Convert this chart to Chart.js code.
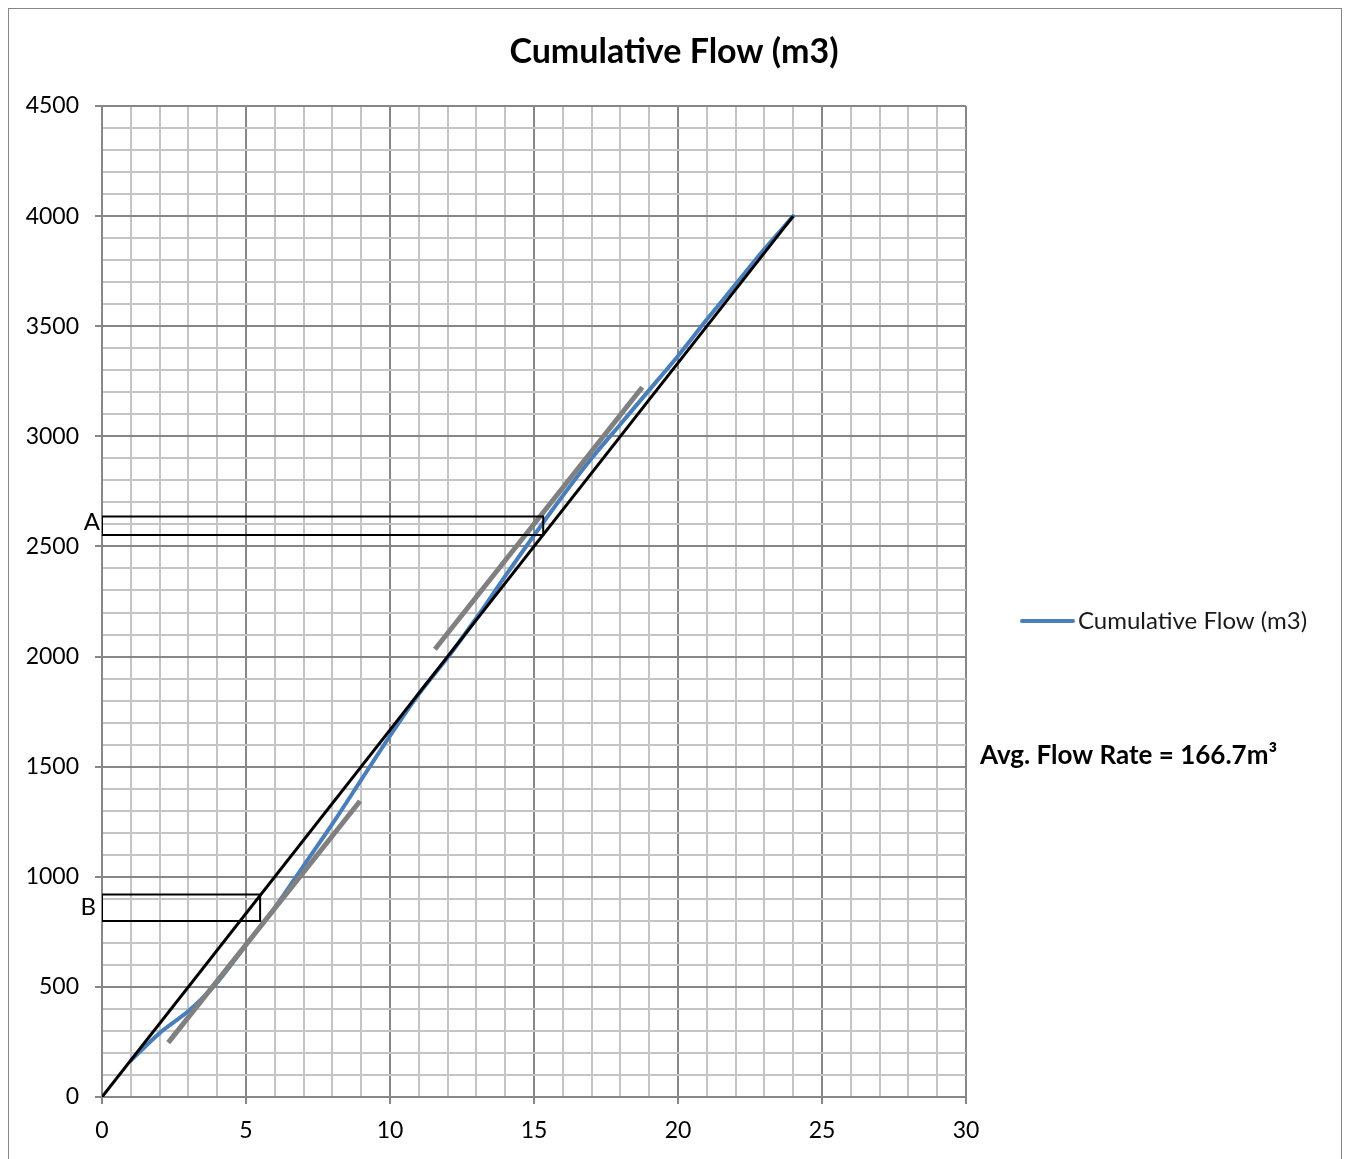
<!DOCTYPE html>
<html>
<head>
<meta charset="utf-8">
<script src="https://cdn.jsdelivr.net/npm/chart.js@4"></script>
<style>
  html, body { margin: 0; padding: 0; background: #fff; }
</style>
</head>
<body>
<canvas id="flowChart" width="1347" height="1159"></canvas>
<script>
// hourly readings
const hours = [1, 2, 3, 4, 5, 6, 7, 8, 9, 10, 11, 12, 13, 14, 15, 16, 17, 18, 19, 20, 21, 22, 23, 24];
const cumulativeFlow = [165, 290, 390, 520, 690, 860, 1050, 1240, 1440, 1640, 1830, 1995, 2175, 2365, 2550, 2730, 2900, 3055, 3210, 3365, 3530, 3690, 3850, 4000];

// average flow line (origin to last reading)
const avgX = [0, 24];
const avgY = [0, 4000];

// hand-drawn tangents
const tangentLowX = [2.3, 8.96];
const tangentLowY = [247, 1344];
const tangentHighX = [11.56, 18.76];
const tangentHighY = [2033, 3223];

// reading boxes A and B
const boxAX = [0, 15.32, 15.32, 0, 0];
const boxAY = [2552, 2552, 2636, 2636, 2552];
const boxBX = [0, 5.49, 5.49, 0, 0];
const boxBY = [799, 799, 920, 920, 799];

const xMax = 30;
const yMax = 4500;

const FONT = "Lato, 'Open Sans', sans-serif";
const BLUE = "#4A7EBB";

const pts = (xs, ys) => xs.map((x, i) => ({ x: x, y: ys[i] }));

const decor = {
  id: "decor",
  afterDraw(chart) {
    const ctx = chart.ctx;
    const xs = chart.scales.x;
    const ys = chart.scales.y;
    ctx.save();

    // chart border
    ctx.strokeStyle = "#868686";
    ctx.lineWidth = 1;
    ctx.strokeRect(8.5, 8.5, 1333, 1200);

    // title
    ctx.fillStyle = "#000";
    ctx.font = "bold 34px " + FONT;
    ctx.textAlign = "center";
    ctx.textBaseline = "middle";
    ctx.fillText("Cumulative Flow (m3)", 674, 52);

    // legend
    ctx.strokeStyle = BLUE;
    ctx.lineWidth = 4;
    ctx.lineCap = "round";
    ctx.beginPath();
    ctx.moveTo(1022, 621);
    ctx.lineTo(1073, 621);
    ctx.stroke();
    ctx.font = "24px " + FONT;
    ctx.textAlign = "left";
    ctx.fillStyle = "#1a1a1a";
    ctx.fillText("Cumulative Flow (m3)", 1078, 621);

    // note
    ctx.font = "bold 26px " + FONT;
    ctx.fillStyle = "#000";
    ctx.fillText("Avg. Flow Rate = 166.7m\u00B3", 980, 756);

    // box labels
    ctx.font = "24px " + FONT;
    ctx.textAlign = "right";
    ctx.fillText("A", xs.getPixelForValue(0) - 2, ys.getPixelForValue(2610));
    ctx.fillText("B", xs.getPixelForValue(0) - 6, ys.getPixelForValue(860));

    ctx.restore();
  },
};

const gridColor = (c) => (c.tick && c.tick.value % 5 === 0 ? "#878787" : "#C4C4C4");
const gridColorY = (c) => (c.tick && c.tick.value % 500 === 0 ? "#878787" : "#C4C4C4");

new Chart(document.getElementById("flowChart").getContext("2d"), {
  type: "scatter",
  data: {
    datasets: [
      {
        label: "A",
        data: pts(boxAX, boxAY),
        showLine: true,
        borderColor: "#000",
        borderWidth: 2,
        pointRadius: 0,
        tension: 0,
        order: 0,
      },
      {
        label: "B",
        data: pts(boxBX, boxBY),
        showLine: true,
        borderColor: "#000",
        borderWidth: 2,
        pointRadius: 0,
        tension: 0,
        order: 0,
      },
      {
        label: "Average",
        data: pts(avgX, avgY),
        showLine: true,
        borderColor: "#000",
        borderWidth: 3,
        pointRadius: 0,
        order: 1,
      },
      {
        label: "Tangent 1",
        data: pts(tangentLowX, tangentLowY),
        showLine: true,
        borderColor: "#808080",
        borderWidth: 5,
        pointRadius: 0,
        order: 2,
      },
      {
        label: "Tangent 2",
        data: pts(tangentHighX, tangentHighY),
        showLine: true,
        borderColor: "#808080",
        borderWidth: 5,
        pointRadius: 0,
        order: 2,
      },
      {
        label: "Cumulative Flow (m3)",
        data: pts(hours, cumulativeFlow),
        showLine: true,
        borderColor: BLUE,
        borderWidth: 4,
        borderCapStyle: "round",
        pointRadius: 0,
        tension: 0.3,
        order: 3,
      },
    ],
  },
  options: {
    responsive: false,
    animation: false,
    layout: {
      padding: { left: 0, right: 381, top: 106, bottom: 0 },
    },
    plugins: {
      legend: { display: false },
      title: { display: false },
      tooltip: { enabled: false },
    },
    scales: {
      x: {
        type: "linear",
        min: 0,
        max: xMax,
        afterFit: (scale) => {
          scale.height = 62;
        },
        ticks: {
          stepSize: 1,
          autoSkip: false,
          maxRotation: 0,
          padding: 13,
          font: { family: FONT, size: 23 },
          color: "#000",
          callback: (v) => (v % 5 === 0 ? v : ""),
        },
        grid: {
          color: gridColor,
          lineWidth: 2,
          tickLength: 7,
          tickColor: (c) => (c.tick && c.tick.value % 5 === 0 ? "#878787" : "rgba(0,0,0,0)"),
        },
        border: { color: "#878787", width: 2 },
      },
      y: {
        type: "linear",
        min: 0,
        max: yMax,
        afterFit: (scale) => {
          scale.width = 102;
        },
        ticks: {
          stepSize: 100,
          autoSkip: false,
          padding: 16,
          font: { family: FONT, size: 23 },
          color: "#000",
          callback: (v) => (v % 500 === 0 ? v : ""),
        },
        grid: {
          color: gridColorY,
          lineWidth: 2,
          tickLength: 7,
          tickColor: (c) => (c.tick && c.tick.value % 500 === 0 ? "#878787" : "rgba(0,0,0,0)"),
        },
        border: { color: "#878787", width: 2 },
      },
    },
  },
  plugins: [decor],
});
</script>
</body>
</html>
